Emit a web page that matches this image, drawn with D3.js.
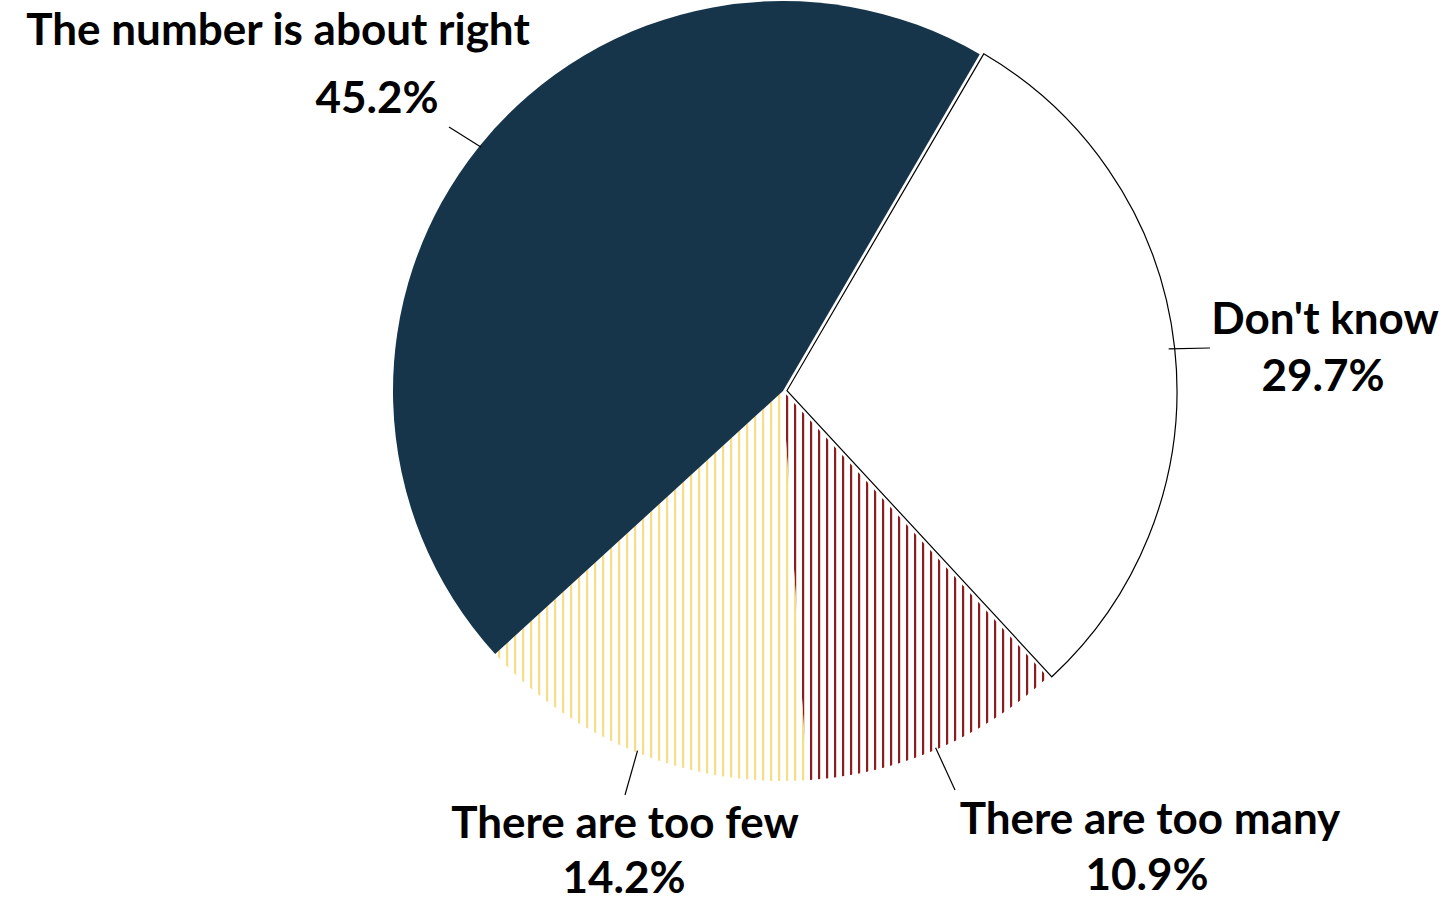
<!DOCTYPE html>
<html>
<head>
<meta charset="utf-8">
<script src="https://cdn.jsdelivr.net/npm/d3@7"></script>
<style>
  body { margin: 0; background: #fff; }
  svg text { font-family: Lato, "Open Sans", sans-serif; font-weight: 700; fill: #000; }
</style>
</head>
<body>
<div id="chart"></div>
<script>
var answers = ["Don't know", "There are too many", "There are too few", "The number is about right"];
var shares = [29.7, 10.9, 14.2, 45.2];
var shareLabels = ["29.7%", "10.9%", "14.2%", "45.2%"];

var width = 1455,
    height = 903;

var cx = 783, cy = 391, radius = 390;

// label layout: name position, value position, end of leader line
var labelPos = [
    {nx: 1325, ny: 334, vx: 1323, vy: 391, lx: 1210, ly: 348},
    {nx: 1150, ny: 834, vx: 1147, vy: 890, lx: 955, ly: 790},
    {nx: 625, ny: 838, vx: 624, vy: 893, lx: 625, ly: 795},
    {nx: 278, ny: 45, vx: 377, vy: 113, lx: 449, ly: 127}
];

var svg = d3.select("#chart")
    .append("svg")
        .attr("width", width)
        .attr("height", height);

var defs = svg.append("defs");

function stripes(id, color) {
    var p = defs.append("pattern")
        .attr("id", id)
        .attr("patternUnits", "userSpaceOnUse")
        .attr("width", 8)
        .attr("height", 8);
    p.append("rect")
        .attr("width", 8).attr("height", 8)
        .attr("fill", "#fff");
    p.append("rect")
        .attr("x", 3).attr("width", 2.2).attr("height", 8)
        .attr("fill", color);
}
stripes("redStripes", "#8e1b1f");
stripes("yellowStripes", "#f6de86");

var fills = ["#ffffff", "url(#redStripes)", "url(#yellowStripes)", "#16354b"];

var deg = Math.PI / 180;
var pie = d3.pie()
    .sort(null)
    .value(function(d) { return d; })
    .startAngle(30.3 * deg)
    .endAngle(390.3 * deg);

var arcs = pie(shares);

var arc = d3.arc()
    .innerRadius(0)
    .outerRadius(radius);

var g = svg.append("g")
    .attr("transform", "translate(" + cx + "," + cy + ")");

// slices; "Don't know" is pulled out a little and outlined
g.selectAll("path.slice")
    .data(arcs)
    .enter()
    .append("path")
        .attr("class", "slice")
        .attr("transform", function(d, i) {
            if (i !== 0) return null;
            var a = (d.startAngle + d.endAngle) / 2;
            return "translate(" + (4 * Math.sin(a)) + "," + (-4 * Math.cos(a)) + ")";
        })
        .attr("d", arc)
        .attr("fill", function(d, i) { return fills[i]; })
        .attr("stroke", function(d, i) { return i === 0 ? "#000" : "none"; })
        .attr("stroke-width", 1.2);

// leader lines
g.selectAll("line.leader")
    .data(arcs)
    .enter()
    .append("line")
        .attr("class", "leader")
        .attr("x1", function(d) {
            var a = (d.startAngle + d.endAngle) / 2;
            return (radius - 2) * Math.sin(a);
        })
        .attr("y1", function(d) {
            var a = (d.startAngle + d.endAngle) / 2;
            return -(radius - 2) * Math.cos(a);
        })
        .attr("x2", function(d, i) { return labelPos[i].lx - cx; })
        .attr("y2", function(d, i) { return labelPos[i].ly - cy; })
        .attr("stroke", "#000")
        .attr("stroke-width", 1.2);

svg.selectAll("text.name")
    .data(answers)
    .enter()
    .append("text")
        .attr("class", "name")
        .attr("x", function(d, i) { return labelPos[i].nx; })
        .attr("y", function(d, i) { return labelPos[i].ny; })
        .attr("text-anchor", "middle")
        .style("font-size", "44px")
        .text(function(d) { return d; });

svg.selectAll("text.value")
    .data(shareLabels)
    .enter()
    .append("text")
        .attr("class", "value")
        .attr("x", function(d, i) { return labelPos[i].vx; })
        .attr("y", function(d, i) { return labelPos[i].vy; })
        .attr("text-anchor", "middle")
        .style("font-size", "44px")
        .text(function(d) { return d; });
</script>
</body>
</html>
